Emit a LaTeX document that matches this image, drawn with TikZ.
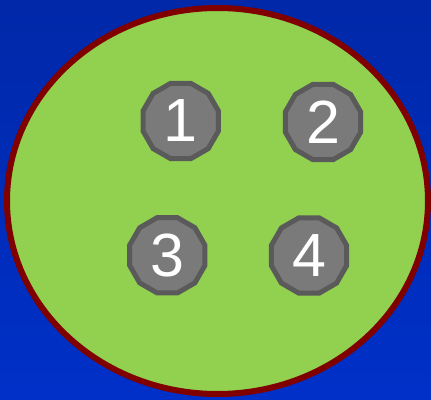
\documentclass[tikz,border=0pt]{standalone}
\usepackage{fontspec}
\setmainfont{Liberation Sans}
\usetikzlibrary{shapes.geometric}
\definecolor{bgtop}{HTML}{0028A8}
\definecolor{bgbot}{HTML}{0030C8}
\definecolor{greenfill}{HTML}{92D050}
\definecolor{rimred}{HTML}{800000}
\definecolor{nodegray}{HTML}{7A7A7A}
\definecolor{nodeedge}{HTML}{5A5A5A}
\tikzset{
  numnode/.style={regular polygon, regular polygon sides=12, draw=nodeedge, fill=nodegray,
    line width=5pt, minimum size=78pt, inner sep=0pt, text=white,
    font=\fontsize{61}{61}\selectfont}
}
\begin{document}
\begin{tikzpicture}[x=1pt,y=-1pt]
\useasboundingbox (0,0) rectangle (431,399);
\shade[top color=bgtop, bottom color=bgbot] (0,0) rectangle (431,399);
\draw[fill=greenfill, draw=rimred, line width=6pt] (217.5,201) ellipse [x radius=210.5, y radius=193];
\node[numnode] (n1) at (180.7,121) {1};
\node[numnode] (n2) at (323,122) {2};
\node[numnode] (n3) at (167.3,255.3) {3};
\node[numnode] (n4) at (309,255.5) {4};
\end{tikzpicture}
\end{document}
